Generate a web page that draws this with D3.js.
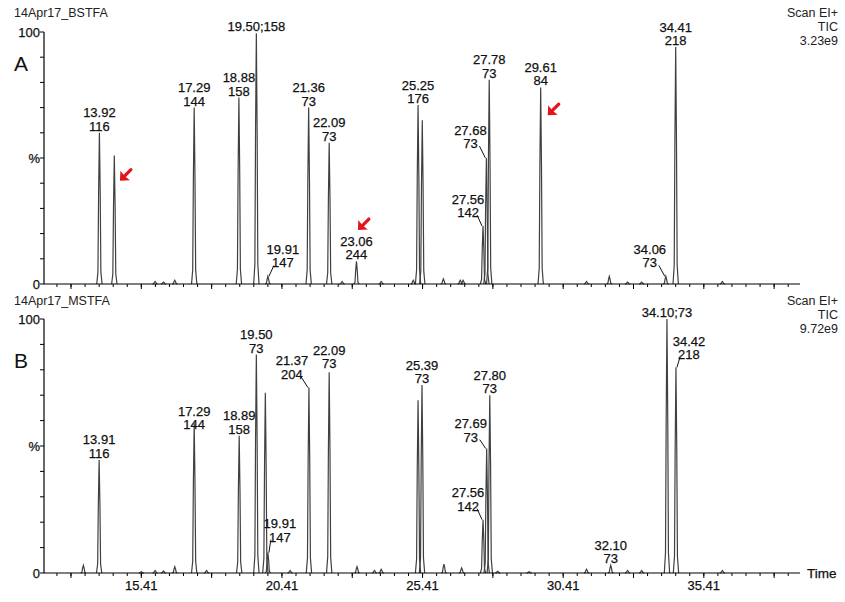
<!DOCTYPE html>
<html><head><meta charset="utf-8">
<script src="https://cdn.jsdelivr.net/npm/d3@7"></script>
<style>
html,body{margin:0;padding:0;background:#fff;}
svg{display:block;font-family:"Liberation Sans",Arial,sans-serif;}
text{stroke:#111;stroke-width:0.25;}
</style></head>
<body>
<svg id="chart" width="845" height="602"></svg>
<script>
// ---------- DATA ----------
// Panel A (BSTFA): retention time (min) and relative intensity (%)
const peaksA_time = [13.92,14.45,15.90,16.20,16.60,17.29,18.88,19.50,19.91,21.36,22.09,22.55,23.06,23.94,25.08,25.25,25.40,26.15,26.75,26.85,27.56,27.68,27.78,29.61,31.24,32.05,32.70,33.20,34.06,34.41,36.07];
const peaksA_value = [60,51,1,0.8,1.5,70,74,99.5,3,70,56,1,9,1,1.5,71,65,2,1.5,1.5,23,50,81,78,1,3,0.8,0.8,3,94,1];
// Panel B (MSTFA)
const peaksB_time = [13.35,13.91,15.41,15.90,16.20,16.60,17.29,17.73,18.89,19.50,19.82,19.91,20.70,21.37,22.09,23.08,23.70,23.94,25.25,25.39,26.17,26.80,27.56,27.69,27.80,28.08,29.20,31.24,32.10,32.70,33.20,34.10,34.42,36.07];
const peaksB_value = [3,44.5,0.5,1,0.8,2.5,59,1,54,86,71,8,1,73,79,2.5,1,1.5,68,74,3.5,2,21,49,70,0.7,0.5,1.5,3,1,1,100,81,1];

// Peak labels (retention time; ion)
const labelsA_time = [13.92,17.29,18.88,19.50,19.91,21.36,22.09,23.06,25.25,27.56,27.68,27.78,29.61,34.06,34.41];
const labelsA_text = [["13.92","116"],["17.29","144"],["18.88","158"],["19.50;158"],["19.91","147"],["21.36","73"],["22.09","73"],["23.06","244"],["25.25","176"],["27.56","142"],["27.68","73"],["27.78","73"],["29.61","84"],["34.06","73"],["34.41","218"]];
const labelsB_time = [13.91,17.29,18.89,19.50,19.91,21.37,22.09,25.39,27.56,27.69,27.80,32.10,34.10,34.42];
const labelsB_text = [["13.91","116"],["17.29","144"],["18.89","158"],["19.50","73"],["19.91","147"],["21.37","204"],["22.09","73"],["25.39","73"],["27.56","142"],["27.69","73"],["27.80","73"],["32.10","73"],["34.10;73"],["34.42","218"]];

// Axis tick labels
const xTickLabels = [15.41,20.41,25.41,30.41,35.41];
const yTickLabels = ["100","%","0"];
const yTickLabelValues = [100,50,0];

// Headers
const titleA = "14Apr17_BSTFA", titleB = "14Apr17_MSTFA";
const infoA = ["Scan EI+","TIC","3.23e9"];
const infoB = ["Scan EI+","TIC","9.72e9"];

// Arrows (panel A) pointing at peaks: time, %
const arrowsA_time = [14.65,23.11,29.86];
const arrowsA_value = [41,21.4,67];

// ---------- LAYOUT ----------
const svg = d3.select("#chart");
const X0 = 44, X1 = 800;
const x = d3.scaleLinear().domain([11.95, 38.83]).range([X0, X1]);
const yA = d3.scaleLinear().domain([0,100]).range([284, 32]);
const yB = d3.scaleLinear().domain([0,100]).range([573, 319]);
const HW = 0.095; // peak half-width (min) for drawing

const layoutA = {"19.91":{dx:15,dy:-9,lead:true},"27.56":{dx:-15,dy:-9,lead:true},"27.68":{dx:-16,dy:-10,lead:true},"34.06":{dx:-16,dy:-9,lead:true}};
const layoutB = {"17.29":{dx:0,dy:6},"19.91":{dx:12,dy:-11,lead:true},"21.37":{dx:-17,dy:-9,lead:true},"27.56":{dx:-15,dy:-9,lead:true},"27.69":{dx:-16,dy:-7,lead:true},"34.42":{dx:13,dy:-8,lead:true},"22.09":{dx:0,dy:-4}};

const minorTicks = d3.range(12.41, 38.6, 0.5);
const majorTicks = d3.range(12.91, 38.6, 2.5);

function panel(y, times, values, lTimes, lTexts, layout, title, info, infoY, letter, letterY, showXLabels){
  const g = svg.append("g");
  const line = d3.line().x(d=>x(d[0])).y(d=>y(d[1]));
  times.forEach((t,i)=>{
    const h = values[i];
    g.append("path")
      .attr("d", line([[t-HW,0],[t-HW*0.55,h*0.08],[t-HW*0.3,h*0.6],[t,h],[t+HW*0.3,h*0.6],[t+HW*0.55,h*0.08],[t+HW,0]]))
      .attr("fill","none").attr("stroke","#404040").attr("stroke-width",1.2);
  });
  g.append("line").attr("x1",X0).attr("x2",X1).attr("y1",y(0)).attr("y2",y(0)).attr("stroke","#000").attr("stroke-width",1.2);
  minorTicks.forEach(t=>{
    g.append("line").attr("x1",x(t)).attr("x2",x(t)).attr("y1",y(0)).attr("y2",y(0)+3).attr("stroke","#000").attr("stroke-width",1);
  });
  majorTicks.forEach(t=>{
    g.append("line").attr("x1",x(t)).attr("x2",x(t)).attr("y1",y(0)).attr("y2",y(0)+5).attr("stroke","#000").attr("stroke-width",1);
  });
  if(showXLabels){
    xTickLabels.forEach(t=>{
      g.append("text").attr("x",x(t)).attr("y",y(0)+17).attr("text-anchor","middle")
        .attr("font-size",13).attr("fill","#111").text(t.toFixed(2));
    });
    g.append("text").attr("x",X1+7).attr("y",y(0)+5).attr("font-size",13.5).attr("fill","#111").text("Time");
  }
  g.append("line").attr("x1",X0).attr("x2",X0).attr("y1",y(0)).attr("y2",y(100)).attr("stroke","#000").attr("stroke-width",1.2);
  d3.range(0,101,10).forEach(v=>{
    g.append("line").attr("x1",X0-4).attr("x2",X0).attr("y1",y(v)).attr("y2",y(v)).attr("stroke","#000").attr("stroke-width",1);
  });
  yTickLabels.forEach((s,i)=>{
    g.append("text").attr("x",X0-4).attr("y",y(yTickLabelValues[i])+4.5).attr("text-anchor","end")
      .attr("font-size",13).attr("fill","#111").text(s);
  });
  g.append("text").attr("x",14).attr("y",infoY).attr("font-size",12.5).attr("fill","#222").style("stroke","none").text(title);
  info.forEach((s,i)=>{
    g.append("text").attr("x",838).attr("y",infoY+i*14).attr("text-anchor","end").attr("font-size",12.5).attr("fill","#222").style("stroke","none").text(s);
  });
  g.append("text").attr("x",14).attr("y",letterY).attr("font-size",21).attr("fill","#111").style("stroke","none").text(letter);
  lTimes.forEach((t,i)=>{
    const idx = times.indexOf(t);
    const h = values[idx];
    const key = t.toFixed(2);
    const lay = layout[key] || {dx:0,dy:-2};
    const ax = x(t), ay = y(h);
    const bx = ax + lay.dx, by = ay + lay.dy;
    const lines = lTexts[i];
    lines.forEach((s,j)=>{
      g.append("text").attr("x",bx).attr("y",by-(lines.length-1-j)*13.5).attr("text-anchor","middle")
        .attr("font-size",13).attr("fill","#111").text(s);
    });
    if(lay.lead){
      const sx = lay.dx<0 ? bx+9 : bx-9;
      g.append("path").attr("d",`M${sx},${by-2}L${ax+(lay.dx<0?-1:1)},${ay}`)
        .attr("fill","none").attr("stroke","#111").attr("stroke-width",1);
    }
  });
  return g;
}

panel(yA, peaksA_time, peaksA_value, labelsA_time, labelsA_text, layoutA, titleA, infoA, 17, "A", 71, false);
panel(yB, peaksB_time, peaksB_value, labelsB_time, labelsB_text, layoutB, titleB, infoB, 305, "B", 368, true);

arrowsA_time.forEach((t,i)=>{
  const ax = x(t), ay = yA(arrowsA_value[i]);
  const g = svg.append("g").attr("transform",`translate(${ax},${ay})`);
  g.append("line").attr("x1",3).attr("y1",-3).attr("x2",11).attr("y2",-11).attr("stroke","#e3141b").attr("stroke-width",3.2).attr("stroke-linecap","round");
  g.append("path").attr("d","M0,0L0.5,-10L4,-5.5L5.5,-4L10,-0.5Z").attr("fill","#e3141b");
});
</script>
</body></html>
